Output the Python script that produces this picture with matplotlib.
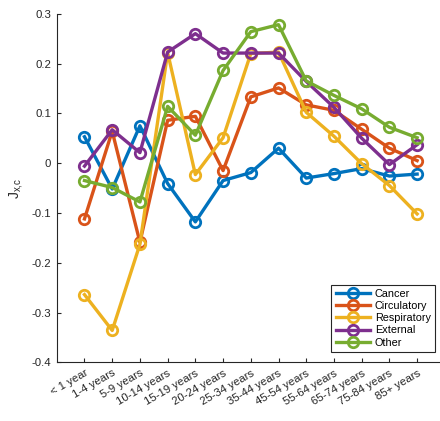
import numpy as np
import matplotlib.pyplot as plt

plt.rcParams['font.family'] = ['Liberation Sans', 'DejaVu Sans']
plt.rcParams['mathtext.fontset'] = 'custom'
plt.rcParams['mathtext.rm'] = 'Liberation Sans'

ages = ['< 1 year', '1-4 years', '5-9 years', '10-14 years', '15-19 years',
        '20-24 years', '25-34 years', '35-44 years', '45-54 years',
        '55-64 years', '65-74 years', '75-84 years', '85+ years']

cancer = [0.053, -0.052, 0.075, -0.041, -0.118, -0.035, -0.019,
          0.030, -0.030, -0.021, -0.011, -0.026, -0.022]
circulatory = [-0.112, 0.064, -0.159, 0.086, 0.094, -0.015, 0.133,
               0.151, 0.117, 0.106, 0.068, 0.030, 0.005]
respiratory = [-0.264, -0.336, -0.163, 0.222, -0.023, 0.051, 0.220,
               0.223, 0.102, 0.054, -0.001, -0.045, -0.102]
external = [-0.006, 0.067, 0.021, 0.223, 0.260, 0.221, 0.221,
            0.221, 0.164, 0.112, 0.050, -0.003, 0.037]
other = [-0.035, -0.049, -0.078, 0.114, 0.056, 0.186, 0.264,
         0.278, 0.165, 0.136, 0.109, 0.072, 0.051]

series = [('Cancer', cancer, '#0072BD'),
          ('Circulatory', circulatory, '#D95319'),
          ('Respiratory', respiratory, '#EDB120'),
          ('External', external, '#7E2F8E'),
          ('Other', other, '#77AC30')]

fig = plt.figure(figsize=(4.4, 4.21), dpi=100)
ax = fig.add_axes([0.129, 0.1394, 0.882, 0.828])

x = np.arange(1, len(ages) + 1)
for name, vals, col in series:
    ax.plot(x, vals, '-o', color=col, lw=2.4, ms=7.5, mfc='none',
            mew=2.0, label=name)

ax.set_xlim(0, 14)
ax.set_ylim(-0.4, 0.3)
ax.set_xticks(x)
ax.set_xticklabels(ages, rotation=30, ha='right', rotation_mode='anchor',
                   fontsize=8.2, color='#262626')
ax.set_yticks(np.arange(-0.4, 0.31, 0.1))
ax.set_yticklabels(['-0.4', '-0.3', '-0.2', '-0.1', '0', '0.1', '0.2', '0.3'],
                   fontsize=8.2, color='#262626')
ax.tick_params(direction='in', length=3, width=0.8, color='#262626', pad=4)
ax.spines['top'].set_visible(False)
ax.spines['right'].set_visible(False)
for s in ('left', 'bottom'):
    ax.spines[s].set_color('#262626')
    ax.spines[s].set_linewidth(0.8)

ax.set_ylabel(r'J$_{\mathrm{x{,}c}}$', fontsize=10, color='#262626', labelpad=5)

leg = ax.legend(loc='lower right', bbox_to_anchor=(0.975, 0.03),
                fontsize=7.8, handlelength=3.2, labelspacing=0.2,
                borderpad=0.4, fancybox=False, framealpha=1,
                handletextpad=0.4, borderaxespad=0)
leg.get_frame().set_edgecolor('#262626')
leg.get_frame().set_linewidth(0.8)

fig.savefig('out.png', dpi=100)
